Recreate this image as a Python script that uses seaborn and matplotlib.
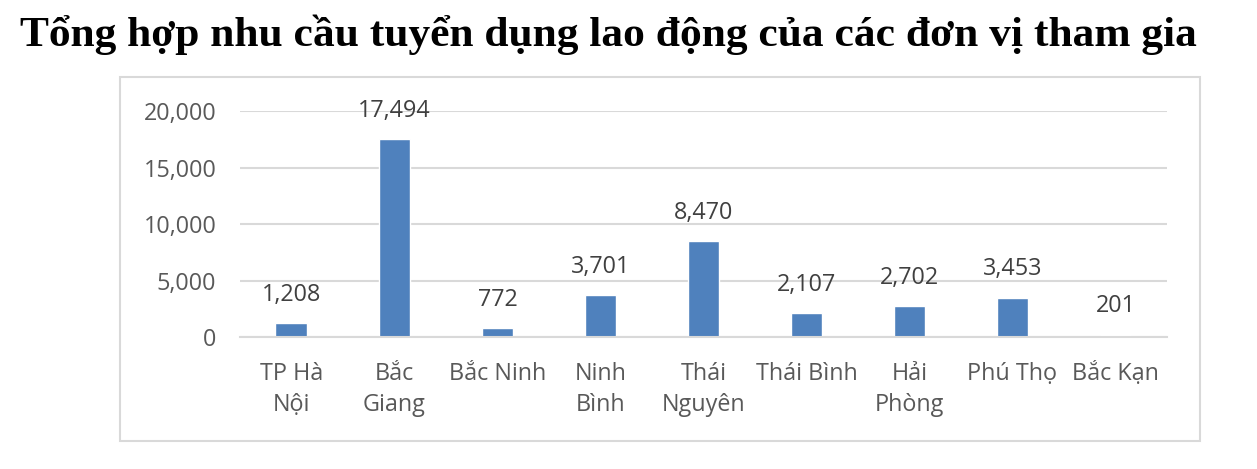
import pandas as pd
import seaborn as sns
import matplotlib.pyplot as plt
from matplotlib.patches import Rectangle
from matplotlib.ticker import FuncFormatter, FixedLocator

# Data
regions = ["TP Hà\nNội", "Bắc\nGiang", "Bắc Ninh", "Ninh\nBình", "Thái\nNguyên",
           "Thái Bình", "Hải\nPhòng", "Phú Thọ", "Bắc Kạn"]
demand = [1208, 17494, 772, 3701, 8470, 2107, 2702, 3453, 201]
y_ticks = [0, 5000, 10000, 15000, 20000]

df = pd.DataFrame({"region": regions, "demand": demand})

sns.set_theme(style="white")
plt.rcParams['font.family'] = ['Open Sans', 'DejaVu Sans']

fig = plt.figure(figsize=(12.57, 4.69), dpi=100)

# chart border box
fig.patches.append(Rectangle((0.0955, 0.0597), 0.8592, 0.776, transform=fig.transFigure,
                             fill=False, edgecolor='#D9D9D9', linewidth=1.5))

ax = fig.add_axes([0.1909, 0.2814, 0.7375, 0.4819])
sns.barplot(data=df, x="region", y="demand", color="#4F81BD", saturation=1,
            width=0.31, ax=ax)

ax.set_ylim(0, 20000)
ax.set_xlim(-0.5, len(regions) - 0.5)
ax.set_yticks(y_ticks)
ax.yaxis.set_major_formatter(FuncFormatter(lambda v, p: f"{int(v):,}"))
ax.grid(axis='y', color='#D9D9D9', linewidth=1.5)
ax.set_axisbelow(True)

for s in ['top', 'right', 'left']:
    ax.spines[s].set_visible(False)
ax.spines['bottom'].set_color('#D9D9D9')
ax.spines['bottom'].set_linewidth(1.5)

fs = 16.8
ax.tick_params(axis='y', length=0, pad=17, labelsize=fs, labelcolor='#595959')
ax.tick_params(axis='x', which='major', length=0, pad=18, labelsize=fs, labelcolor='#595959')
ax.xaxis.set_minor_locator(FixedLocator([i - 0.5 for i in range(len(regions) + 1)]))
ax.tick_params(axis='x', which='minor', length=7, width=1.5, color='#D9D9D9')
for lbl in ax.get_xticklabels():
    lbl.set_linespacing(1.4)

ax.bar_label(ax.containers[0], labels=[f"{v:,}" for v in demand], padding=12,
             fontsize=fs, color='#404040')

ax.set_xlabel("")
ax.set_ylabel("")

fig.text(0.484, 0.925, "Tổng hợp nhu cầu tuyển dụng lao động của các đơn vị tham gia",
         ha='center', va='center', fontsize=31.3, fontweight='bold',
         family=['Liberation Serif', 'DejaVu Serif'], color='black')

fig.savefig("out.png", dpi=100)
